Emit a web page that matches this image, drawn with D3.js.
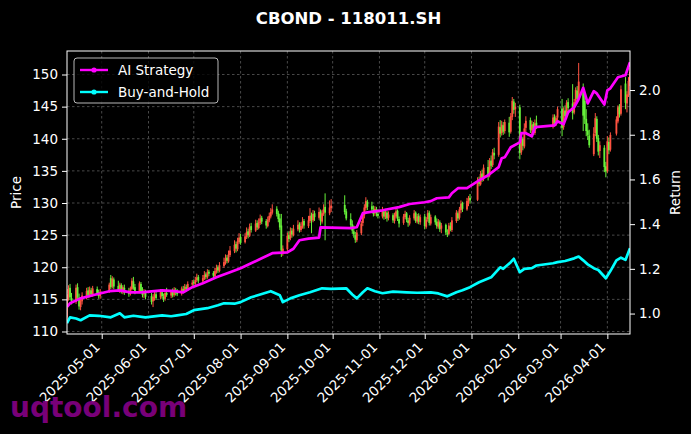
<!DOCTYPE html>
<html><head><meta charset="utf-8">
<script src="https://cdn.jsdelivr.net/npm/d3@7"></script>
<style>
html,body{margin:0;padding:0;background:#000;}
svg{display:block;}
text{font-family:'DejaVu Sans',sans-serif;}
</style></head><body>
<svg id="chart" width="691" height="434"></svg>
<script>
// ---------------- data ----------------
const title = "CBOND - 118011.SH";
const firstDay = "2025-04-08", lastDay = "2026-04-16";
const holidays = ["2025-05-01","2025-05-02","2025-05-05","2025-06-02","2025-10-01","2025-10-02","2025-10-03","2025-10-06","2025-10-07","2025-10-08","2026-01-01","2026-01-02","2026-02-16","2026-02-17","2026-02-18","2026-02-19","2026-02-20","2026-02-23","2026-04-06"];

const opens = [
112.2,115.9,116.8,115.2,114.6,116.9,115.3,113.8,114.7,115.5,116.4,115.7,116.4,115.7,116.6,116.1,115.5,
116.3,118.3,117.0,118.1,117.1,116.4,117.2,116.3,116.8,116.1,115.9,116.6,117.8,116.9,116.3,117.4,116.2,115.8,116.2,
115.5,114.7,115.3,115.8,115.3,116.1,115.4,115.1,116.0,115.6,116.3,115.7,116.4,116.1,115.9,116.6,116.4,116.9,116.7,117.3,
117.7,117.4,118.0,118.5,117.8,118.2,118.9,118.4,119.3,119.1,118.6,119.3,120.0,119.4,120.2,120.7,121.5,120.9,121.9,122.5,123.6,122.8,123.9,
124.7,123.9,124.7,125.6,124.9,126.4,125.7,126.9,126.1,126.9,127.7,127.2,126.4,127.3,127.9,128.5,129.1,128.4,127.6,126.5,122.4,
122.8,125.0,124.5,125.7,125.0,125.9,126.7,125.8,126.3,127.2,126.4,127.2,128.1,127.3,128.4,127.7,128.7,127.1,128.3,129.4,128.4,129.2,
129.7,128.7,127.5,126.7,125.6,125.0,124.2,125.3,126.9,128.1,129.2,130.2,129.5,128.9,128.4,129.0,128.3,
127.9,128.7,127.8,128.5,127.7,128.1,127.2,127.9,128.8,127.5,126.9,127.8,128.4,127.3,126.8,127.6,128.5,127.1,128.0,127.0,
127.9,126.3,127.5,128.5,126.8,127.9,127.1,126.3,127.0,126.0,126.6,125.3,125.2,126.4,125.8,127.2,128.4,127.7,128.9,130.0,129.0,130.2,130.8,
130.5,133.3,132.9,134.6,133.7,135.6,134.3,136.6,135.9,137.8,137.5,141.8,140.9,142.1,141.2,142.5,141.1,143.4,145.8,144.6,
144.9,137.9,140.0,138.8,141.7,142.9,141.3,142.3,140.9,142.5,142.1,143.4,142.3,143.3,
144.7,141.8,144.4,143.4,145.7,145.5,144.1,145.8,147.5,146.3,148.0,145.9,143.1,141.3,140.5,137.6,140.9,143.1,140.1,138.1,138.6,135.7,
135.0,139.5,138.3,140.8,142.7,145.0,143.9,148.6,145.5,146.8,148.9];
const highs = [
116.6,117.2,117.4,116.0,117.3,117.5,115.9,115.2,116.1,116.8,116.9,117.0,116.8,117.1,117.0,116.5,116.6,
117.6,118.8,118.6,118.4,117.9,117.6,117.5,117.2,117.3,116.8,117.0,118.3,118.5,117.4,117.8,117.7,116.9,116.6,116.5,
116.0,115.8,116.2,116.3,116.6,116.4,115.9,116.3,116.8,116.5,116.7,116.9,116.8,116.6,117.0,117.1,117.4,117.3,117.8,118.0,
118.1,118.5,119.0,118.8,118.8,119.4,119.2,119.7,119.6,119.4,119.9,120.4,120.3,120.8,121.5,122.0,121.9,122.6,123.3,124.2,124.0,124.6,125.3,
125.2,125.3,126.2,126.0,126.8,126.9,127.4,127.3,127.6,128.2,128.0,127.5,127.9,128.5,129.2,129.8,129.5,128.8,128.3,128.3,123.4,
125.4,125.6,126.2,126.1,126.6,127.3,127.0,127.0,127.8,127.5,128.0,129.2,128.5,128.9,128.8,129.3,129.0,128.9,129.8,131.5,130.4,130.6,
131.2,129.1,128.4,127.3,126.5,125.5,125.8,127.2,128.6,129.8,130.9,130.5,130.2,129.6,129.5,129.4,129.0,
129.4,129.0,129.1,128.8,128.7,128.4,128.5,129.2,129.0,127.9,128.3,128.8,128.6,127.7,128.1,128.9,128.7,128.3,128.4,128.2,
128.3,127.8,128.9,128.8,128.2,128.1,127.6,127.5,127.3,126.9,126.8,125.9,126.9,127.0,127.8,128.9,128.7,129.4,130.4,130.2,130.8,131.1,131.4,
134.0,134.1,135.0,135.2,136.0,136.7,137.0,137.4,138.4,138.6,142.6,142.9,142.8,142.6,143.0,143.4,144.0,146.5,146.2,145.6,
145.3,140.4,140.3,142.4,143.5,143.3,142.8,142.6,143.0,143.6,143.8,143.8,143.6,145.0,
146.2,144.9,145.2,146.0,146.3,148.5,146.2,148.0,148.2,151.8,148.6,146.7,144.6,142.4,141.4,141.8,144.0,143.5,140.6,139.6,139.0,136.4,
140.4,140.2,141.0,143.5,145.2,145.4,148.3,149.6,147.4,149.6,151.0];
const lows = [
111.6,114.8,114.9,114.2,114.3,115.0,113.4,113.3,114.2,115.0,115.2,115.3,115.4,115.4,115.6,115.1,115.1,
116.0,116.6,116.7,116.6,116.2,116.0,115.9,115.8,115.7,115.4,115.6,116.4,116.5,115.8,116.0,116.0,115.3,115.2,115.0,
114.2,113.8,114.8,114.9,115.0,115.1,114.6,114.8,115.4,115.2,115.3,115.4,115.6,115.5,115.6,116.0,116.1,116.2,116.4,116.9,
117.0,117.2,117.7,117.5,117.5,118.0,118.1,118.2,118.6,118.3,118.4,119.0,119.1,119.2,119.9,120.4,120.6,120.7,121.6,122.2,122.3,122.5,123.6,
123.5,123.7,124.4,124.5,124.7,125.4,125.5,125.8,125.9,126.6,126.7,126.0,126.2,127.0,127.6,128.2,127.9,127.0,125.8,121.6,121.8,
122.5,123.9,124.2,124.6,124.8,125.6,125.4,125.5,126.0,126.0,126.1,126.9,125.3,127.0,127.2,127.4,126.5,126.8,128.0,124.2,128.1,128.6,
128.2,127.3,126.1,125.2,124.6,123.8,123.9,125.0,126.4,127.6,128.8,128.9,128.6,127.9,128.0,127.9,127.6,
127.6,127.4,127.5,127.1,127.3,126.9,126.8,127.6,127.2,126.2,126.6,127.5,127.0,126.3,126.5,127.3,126.9,126.8,126.7,126.6,
125.9,126.0,127.1,126.5,126.5,126.6,126.0,126.0,125.5,125.3,125.0,124.7,125.0,125.6,125.5,126.9,127.2,127.4,128.4,128.6,128.8,129.5,129.9,
130.3,132.6,132.7,133.3,133.4,133.5,134.0,135.3,135.6,136.8,137.2,140.2,140.5,140.6,140.8,140.3,140.8,142.9,143.9,143.4,
136.8,137.5,138.2,138.5,140.8,140.9,140.2,140.6,140.6,141.5,141.6,141.9,142.0,142.9,
140.4,141.4,142.8,143.1,144.2,143.0,143.8,145.5,145.6,146.0,141.2,142.3,140.4,139.8,138.6,137.3,140.4,139.5,137.4,137.0,134.8,134.0,
134.7,137.6,138.0,140.5,142.4,143.3,143.6,144.6,144.1,146.5,148.2];
const closes = [
115.8,116.6,115.3,114.7,116.8,115.4,113.9,114.8,115.6,116.3,115.6,116.5,115.8,116.7,116.0,115.5,116.2,
117.3,116.9,118.2,117.0,116.5,117.3,116.2,116.9,116.0,115.8,116.7,117.9,116.8,116.2,117.5,116.3,115.7,116.3,115.4,
114.6,115.4,115.9,115.2,116.2,115.5,115.0,116.0,115.7,116.2,115.6,116.5,116.0,115.8,116.7,116.3,117.0,116.6,117.4,117.6,
117.5,118.0,118.4,117.9,118.3,118.8,118.5,119.2,119.0,118.7,119.4,119.9,119.5,120.3,120.8,121.4,121.0,122.0,122.6,123.5,122.9,124.0,124.6,
123.8,124.8,125.5,125.0,126.3,125.8,126.8,126.2,127.0,127.6,127.1,126.5,127.4,128.0,128.6,129.0,128.3,127.5,126.2,122.6,122.9,
124.9,124.4,125.6,125.1,126.0,126.6,125.9,126.4,127.1,126.5,127.3,128.0,127.4,128.3,127.8,128.6,127.2,128.4,129.1,128.5,129.3,129.6,
128.6,127.6,126.6,125.7,125.1,124.3,125.4,126.8,128.2,129.3,130.3,129.4,129.0,128.3,129.1,128.4,128.0,
128.8,127.9,128.6,127.6,128.2,127.3,128.0,128.7,127.6,126.8,127.9,128.3,127.4,126.9,127.7,128.4,127.2,127.9,127.1,127.8,
126.4,127.4,128.4,126.9,127.8,127.0,126.4,127.1,125.9,126.5,125.4,125.1,126.5,125.9,127.3,128.5,127.6,129.0,129.9,129.1,130.3,130.7,130.4,
133.2,133.0,134.5,133.8,135.5,134.2,136.5,135.8,137.9,137.4,141.9,140.8,142.2,141.1,142.6,141.0,143.5,145.9,144.5,145.0,
137.8,139.9,138.9,141.6,142.8,141.4,142.2,141.0,142.4,142.0,143.3,142.4,143.2,144.6,
141.7,144.3,143.5,145.6,144.8,144.0,145.7,147.6,146.2,148.9,143.6,143.0,141.2,140.6,139.0,140.8,143.2,140.0,138.0,139.0,135.6,134.9,
139.6,138.2,140.6,143.0,144.9,143.8,147.7,145.6,146.9,149.0,150.4];

const aiDates = ["2025-04-08","2025-04-10","2025-04-17","2025-04-25","2025-05-06","2025-05-13","2025-05-20","2025-05-27","2025-06-10","2025-06-18","2025-06-24","2025-06-30","2025-07-07","2025-07-16","2025-07-25","2025-08-01","2025-08-08","2025-08-15","2025-08-22","2025-09-01","2025-09-05","2025-09-09","2025-09-15","2025-09-22","2025-09-23","2025-10-13","2025-10-17","2025-10-21","2025-10-24","2025-11-03","2025-11-14","2025-11-21","2025-12-01","2025-12-05","2025-12-09","2025-12-17","2025-12-19","2025-12-23","2025-12-29","2026-01-06","2026-01-12","2026-01-19","2026-01-21","2026-01-23","2026-01-27","2026-02-02","2026-02-03","2026-02-06","2026-02-10","2026-02-12","2026-02-25","2026-02-27","2026-03-03","2026-03-06","2026-03-10","2026-03-13","2026-03-16","2026-03-19","2026-03-23","2026-03-25","2026-03-30","2026-04-01","2026-04-03","2026-04-08","2026-04-13","2026-04-15","2026-04-16"];
const aiReturn = [1.030,1.046,1.068,1.082,1.100,1.104,1.095,1.095,1.104,1.100,1.095,1.118,1.136,1.162,1.185,1.203,1.225,1.247,1.270,1.274,1.290,1.328,1.335,1.340,1.386,1.382,1.386,1.449,1.453,1.462,1.476,1.490,1.498,1.503,1.516,1.520,1.538,1.561,1.561,1.596,1.619,1.655,1.695,1.699,1.744,1.766,1.807,1.807,1.793,1.834,1.842,1.860,1.847,1.901,1.923,1.960,2.010,1.940,1.995,1.985,1.935,1.999,2.008,2.057,2.066,2.106,2.124];

const bhDates = ["2025-04-08","2025-04-10","2025-04-14","2025-04-17","2025-04-23","2025-04-29","2025-05-07","2025-05-13","2025-05-16","2025-05-22","2025-05-30","2025-06-10","2025-06-16","2025-06-20","2025-06-26","2025-07-01","2025-07-10","2025-07-17","2025-07-21","2025-07-28","2025-08-01","2025-08-08","2025-08-14","2025-08-21","2025-08-27","2025-08-29","2025-09-03","2025-09-09","2025-09-16","2025-09-24","2025-09-30","2025-10-10","2025-10-14","2025-10-17","2025-10-21","2025-10-24","2025-10-29","2025-11-03","2025-11-10","2025-11-19","2025-11-26","2025-12-05","2025-12-10","2025-12-16","2025-12-22","2025-12-26","2025-12-31","2026-01-06","2026-01-14","2026-01-20","2026-01-22","2026-01-27","2026-01-29","2026-02-02","2026-02-05","2026-02-10","2026-02-13","2026-02-24","2026-02-27","2026-03-04","2026-03-10","2026-03-13","2026-03-16","2026-03-19","2026-03-23","2026-03-26","2026-03-31","2026-04-03","2026-04-07","2026-04-10","2026-04-13","2026-04-16"];
const bhReturn = [0.957,0.983,0.978,0.970,0.992,0.990,0.983,1.001,0.983,0.990,0.983,0.992,0.988,0.992,0.998,1.015,1.024,1.037,1.046,1.044,1.051,1.073,1.085,1.100,1.082,1.051,1.068,1.082,1.095,1.113,1.110,1.113,1.085,1.068,1.095,1.113,1.100,1.091,1.098,1.095,1.093,1.095,1.090,1.077,1.095,1.104,1.118,1.140,1.162,1.207,1.200,1.230,1.245,1.185,1.200,1.203,1.215,1.225,1.230,1.235,1.247,1.255,1.238,1.220,1.203,1.195,1.158,1.190,1.238,1.250,1.240,1.292];

const priceTicks = [110,115,120,125,130,135,140,145,150];
const returnTicks = [1.0,1.2,1.4,1.6,1.8,2.0];
const seriesNames = ["AI Strategy","Buy-and-Hold"];
const seriesColors = ["#ff00ff","#00ffff"];
const upColor = "#ff5240", downColor = "#66f23a";

// ---------------- build ----------------
const parse = d3.timeParse("%Y-%m-%d"), fmt = d3.timeFormat("%Y-%m-%d");
const hol = new Set(holidays);
const days = d3.timeDay.range(parse(firstDay), d3.timeDay.offset(parse(lastDay), 1))
  .filter(d => d.getDay() % 6 !== 0 && !hol.has(fmt(d)));
const candles = days.map((d, i) => ({date: d, o: opens[i], h: highs[i], l: lows[i], c: closes[i]}))
  .filter(d => d.c !== undefined);

const L = 67, R = 630, T = 51, B = 334;
const svg = d3.select("#chart");
svg.append("rect").attr("width", 691).attr("height", 434).attr("fill", "#000");

const x = d3.scaleTime().domain([parse(firstDay), parse(lastDay)]).range([L, R]);
const yP = d3.scaleLinear().domain([109.61, 153.66]).range([B, T]);
const yR = d3.scaleLinear().domain([0.9085, 2.1747]).range([B, T]);

svg.append("defs").append("clipPath").attr("id", "clip")
  .append("rect").attr("x", L).attr("y", T).attr("width", R - L).attr("height", B - T);

// grid
const monthTicks = d3.timeMonth.range(d3.timeMonth.ceil(parse(firstDay)), parse(lastDay));
const grid = svg.append("g").attr("stroke", "#5a5a5a").attr("stroke-width", 0.8).attr("stroke-dasharray", "2.5,2.5");
grid.selectAll(".gx").data(monthTicks).join("line")
  .attr("x1", d => x(d)).attr("x2", d => x(d)).attr("y1", T).attr("y2", B);
grid.selectAll(".gy").data(priceTicks).join("line")
  .attr("x1", L).attr("x2", R).attr("y1", d => yP(d)).attr("y2", d => yP(d));

// candles
const cg = svg.append("g").attr("clip-path", "url(#clip)");
cg.selectAll(".wick").data(candles).join("line")
  .attr("x1", d => x(d.date)).attr("x2", d => x(d.date))
  .attr("y1", d => yP(d.h)).attr("y2", d => yP(d.l))
  .attr("stroke", d => d.c >= d.o ? upColor : downColor).attr("stroke-width", 1);
cg.selectAll(".body").data(candles).join("rect")
  .attr("x", d => x(d.date) - 0.9).attr("width", 1.8)
  .attr("y", d => yP(Math.max(d.o, d.c)))
  .attr("height", d => Math.max(0.8, Math.abs(yP(d.o) - yP(d.c))))
  .attr("fill", d => d.c >= d.o ? upColor : downColor);

// return lines
const line = d3.line().x(d => x(d.date)).y(d => yR(d.v));
const aiData = aiDates.map((d, i) => ({date: parse(d), v: aiReturn[i]}));
const bhData = bhDates.map((d, i) => ({date: parse(d), v: bhReturn[i]}));
const lg = svg.append("g").attr("clip-path", "url(#clip)");
lg.append("path").datum(bhData).attr("d", line).attr("fill", "none")
  .attr("stroke", seriesColors[1]).attr("stroke-width", 2.7).attr("stroke-linejoin", "round");
lg.append("path").datum(aiData).attr("d", line).attr("fill", "none")
  .attr("stroke", seriesColors[0]).attr("stroke-width", 2.7).attr("stroke-linejoin", "round");

// axes
const fs = "13.5px";
const axL = svg.append("g").attr("transform", `translate(${L},0)`)
  .call(d3.axisLeft(yP).tickValues(priceTicks).tickSize(5).tickPadding(4).tickFormat(d3.format("d")));
const axR = svg.append("g").attr("transform", `translate(${R},0)`)
  .call(d3.axisRight(yR).tickValues(returnTicks).tickSize(5).tickPadding(4).tickFormat(d3.format(".1f")));
const axB = svg.append("g").attr("transform", `translate(0,${B})`)
  .call(d3.axisBottom(x).tickValues(monthTicks).tickSize(5).tickFormat(""));
[axL, axR, axB].forEach(a => {
  a.select(".domain").remove();
  a.selectAll("line").attr("stroke", "#fff").attr("stroke-width", 1);
  a.selectAll("text").attr("fill", "#fff").style("font-size", fs).style("font-family", "'DejaVu Sans',sans-serif");
});
svg.append("g").selectAll("text").data(monthTicks).join("text")
  .attr("transform", d => `translate(${x(d) - 1},${B + 14}) rotate(-45)`)
  .attr("text-anchor", "end").attr("fill", "#fff").style("font-size", fs)
  .text(d => fmt(d));

// frame
svg.append("rect").attr("x", L).attr("y", T).attr("width", R - L).attr("height", B - T)
  .attr("fill", "none").attr("stroke", "#fff").attr("stroke-width", 1);

// labels
svg.append("text").attr("x", (L + R) / 2).attr("y", 24).attr("text-anchor", "middle")
  .attr("fill", "#fff").style("font-size", "16.5px").style("font-weight", "bold").text(title);
svg.append("text").attr("transform", `translate(21,${(T + B) / 2}) rotate(-90)`).attr("text-anchor", "middle")
  .attr("fill", "#fff").style("font-size", fs).text("Price");
svg.append("text").attr("transform", `translate(680,${(T + B) / 2}) rotate(-90)`).attr("text-anchor", "middle")
  .attr("fill", "#fff").style("font-size", fs).text("Return");

// legend
const leg = svg.append("g");
leg.append("rect").attr("x", 74).attr("y", 58).attr("width", 144).attr("height", 45).attr("rx", 3)
  .attr("fill", "#000").attr("fill-opacity", 0.8).attr("stroke", "#cccccc").attr("stroke-width", 0.9);
seriesNames.forEach((name, i) => {
  const yy = 70 + i * 22;
  leg.append("line").attr("x1", 80).attr("x2", 108).attr("y1", yy).attr("y2", yy)
    .attr("stroke", seriesColors[i]).attr("stroke-width", 2.4);
  leg.append("circle").attr("cx", 94).attr("cy", yy).attr("r", 2.6).attr("fill", seriesColors[i]);
  leg.append("text").attr("x", 118).attr("y", yy).attr("dy", "0.36em").attr("fill", "#fff")
    .style("font-size", fs).text(name);
});

// watermark
svg.append("text").attr("x", 10).attr("y", 417).attr("fill", "#800080").attr("fill-opacity", 0.95)
  .style("font-size", "28px").style("font-weight", "bold").text("uqtool.com");
</script>
</body></html>
